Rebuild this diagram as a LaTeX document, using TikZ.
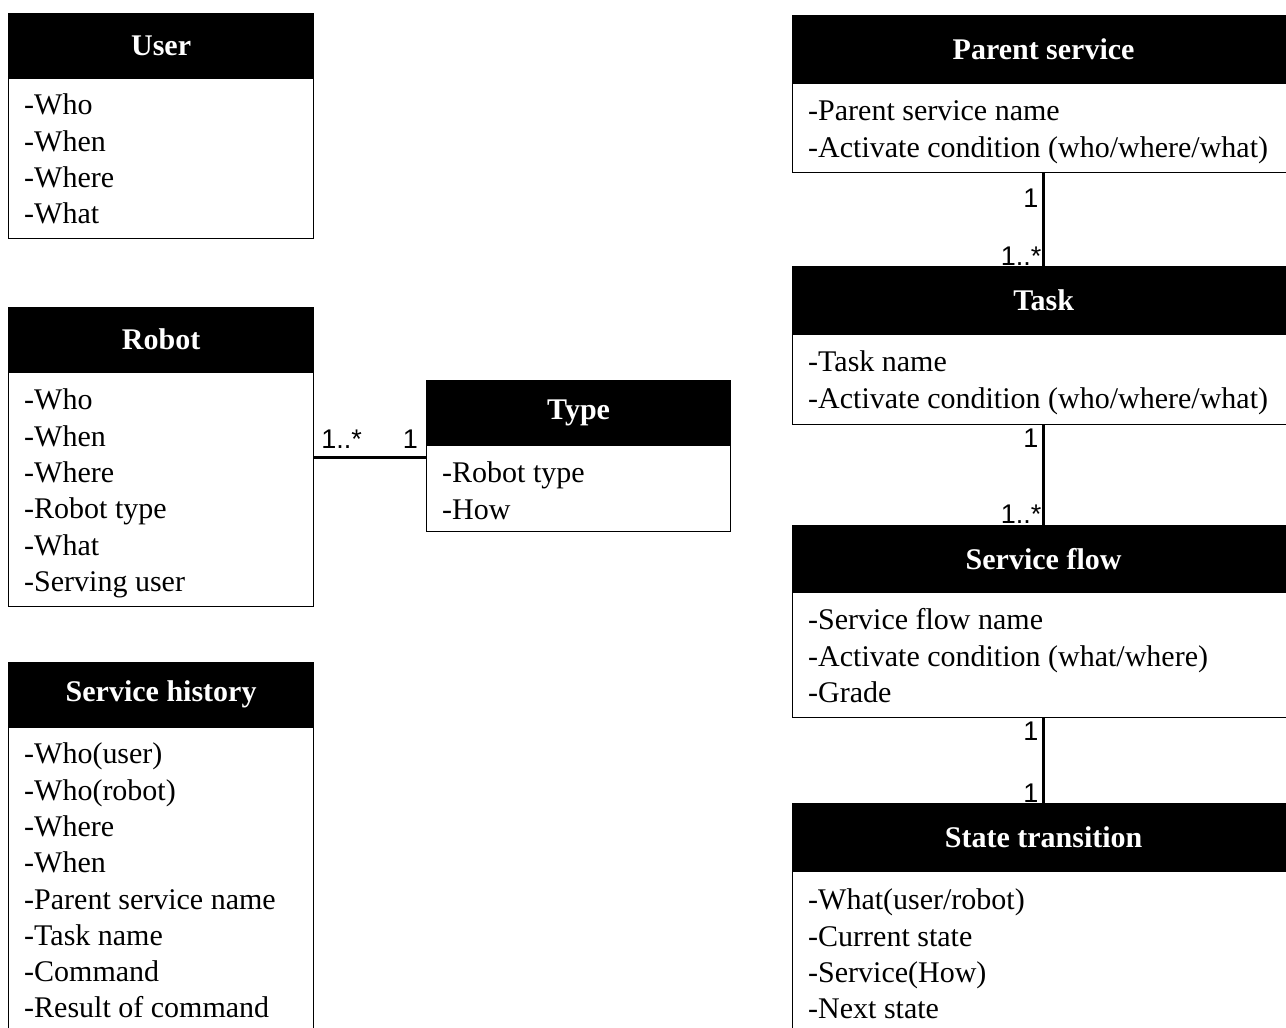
\documentclass[tikz,border=0pt]{standalone}
\usepackage{fontspec}
\setmainfont{Liberation Serif}
\newfontfamily\labelsans{Liberation Sans}
\begin{document}
\begin{tikzpicture}[x=1pt, y=-1pt,
  hdr/.style={draw=black, fill=black, text=white, line width=1.2pt,
    anchor=north west, inner sep=0pt,
    font=\fontsize{30}{34}\selectfont\bfseries},
  bdy/.style={draw=black, fill=white, line width=1.2pt,
    anchor=north west, inner sep=0pt},
  attrs/.style={anchor=north west, inner sep=0pt, align=left,
    font=\fontsize{30}{36.3}\selectfont},
  assoc/.style={line width=3.2pt},
  mult/.style={inner sep=0pt, font=\labelsans\fontsize{27}{30}\selectfont}
]
\useasboundingbox (0,0) rectangle (1286,1028);

% ---------- left column ----------
\node[hdr, minimum width=305pt, minimum height=64pt] (user) at (8,13) {User};
\node[bdy, minimum width=305pt, minimum height=160pt] (userb) at (user.south west) {};
\node[attrs] (usera) at ([shift={(16,11)}]userb.north west)
  {\strut-Who\\-When\\-Where\\-What};

\node[hdr, minimum width=305pt, minimum height=64pt] (robot) at (8,307) {Robot};
\node[bdy, minimum width=305pt, minimum height=234pt] (robotb) at (robot.south west) {};
\node[attrs] (robota) at ([shift={(16,12)}]robotb.north west)
  {\strut-Who\\-When\\-Where\\-Robot type\\-What\\-Serving user};

\node[hdr, minimum width=305pt, minimum height=64pt] (hist) at (8,662) {Service history};
\node[bdy, minimum width=305pt, minimum height=330pt] (histb) at (hist.south west) {};
\node[attrs] (hista) at ([shift={(16,11)}]histb.north west)
  {\strut-Who(user)\\-Who(robot)\\-Where\\-When\\-Parent service name\\-Task name\\-Command\\-Result of command};

% ---------- type ----------
\node[hdr, minimum width=304pt, minimum height=64pt] (type) at (426,380) {Type};
\node[bdy, minimum width=304pt, minimum height=86pt] (typeb) at (type.south west) {};
\node[attrs] (typea) at ([shift={(16,12)}]typeb.north west)
  {\strut-Robot type\\-How};

% ---------- right column ----------
\node[hdr, minimum width=502pt, minimum height=67pt] (parent) at (792,15) {Parent service};
\node[bdy, minimum width=502pt, minimum height=89pt] (parentb) at (parent.south west) {};
\node[attrs] (parenta) at ([shift={(16,12)}]parentb.north west)
  {\strut-Parent service name\\-Activate condition (who/where/what)};

\node[hdr, minimum width=502pt, minimum height=67pt] (task) at (792,266) {Task};
\node[bdy, minimum width=502pt, minimum height=90pt] (taskb) at (task.south west) {};
\node[attrs] (taska) at ([shift={(16,12)}]taskb.north west)
  {\strut-Task name\\-Activate condition (who/where/what)};

\node[hdr, minimum width=502pt, minimum height=66pt] (flow) at (792,525) {Service flow};
\node[bdy, minimum width=502pt, minimum height=125pt] (flowb) at (flow.south west) {};
\node[attrs] (flowa) at ([shift={(16,12)}]flowb.north west)
  {\strut-Service flow name\\-Activate condition (what/where)\\-Grade};

\node[hdr, minimum width=502pt, minimum height=67pt] (state) at (792,803) {State transition};
\node[bdy, minimum width=502pt, minimum height=200pt] (stateb) at (state.south west) {};
\node[attrs] (statea) at ([shift={(16,13)}]stateb.north west)
  {\strut-What(user/robot)\\-Current state\\-Service(How)\\-Next state};

% ---------- associations ----------
\coordinate (typeport) at ([shift={(0,12)}]typeb.north west);
\draw[assoc] (robotb.east |- typeport) -- (typeport);
\node[mult, anchor=base west] (m1) at ([shift={(7,-9)}]robotb.east |- typeport) {1..*};
\node[mult, anchor=base east] (m2) at ([shift={(-8,-9)}]typeport) {1};

\draw[assoc] (parentb.south) -- (task.north);
\node[mult, anchor=base east] (m3) at ([shift={(-5,34)}]parentb.south) {1};
\node[mult, anchor=base east] (m4) at ([shift={(-2,-1)}]task.north) {1..*};

\draw[assoc] (taskb.south) -- (flow.north);
\node[mult, anchor=base east] (m5) at ([shift={(-5,22)}]taskb.south) {1};
\node[mult, anchor=base east] (m6) at ([shift={(-2,-2)}]flow.north) {1..*};

\draw[assoc] (flowb.south) -- (state.north);
\node[mult, anchor=base east] (m7) at ([shift={(-5,22)}]flowb.south) {1};
\node[mult, anchor=base east] (m8) at ([shift={(-5,-1)}]state.north) {1};
\end{tikzpicture}
\end{document}
